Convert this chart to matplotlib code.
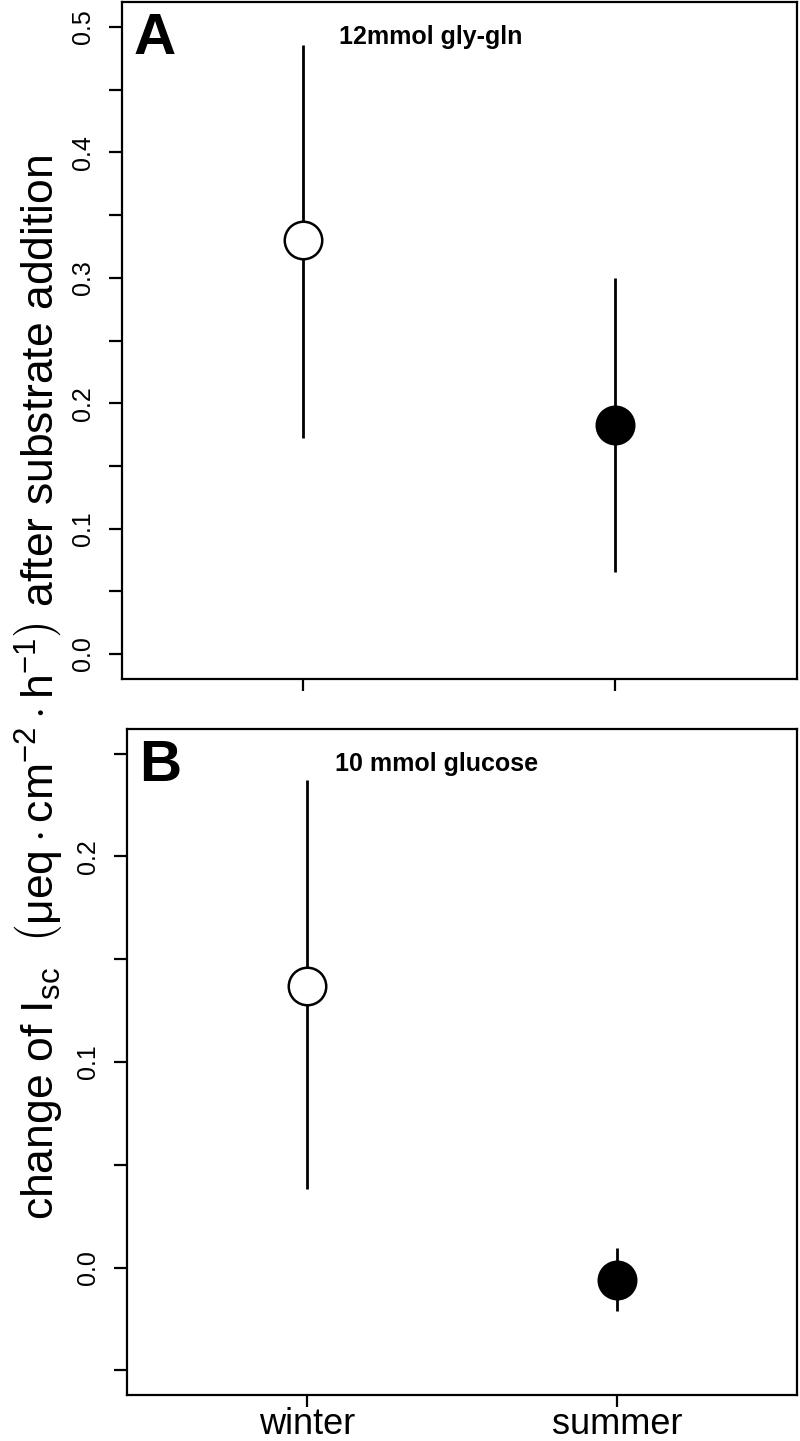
import matplotlib
matplotlib.use("Agg")
import matplotlib.pyplot as plt

plt.rcParams['font.family'] = ['Liberation Sans', 'DejaVu Sans']
plt.rcParams['mathtext.fontset'] = 'custom'
plt.rcParams['mathtext.rm'] = 'Liberation Sans'
plt.rcParams['mathtext.it'] = 'Liberation Sans:italic'
plt.rcParams['mathtext.bf'] = 'Liberation Sans:bold'

# ---- data ----
seasons = ["winter", "summer"]
x_pos = [1, 2]

a_mean = [0.330, 0.183]
a_low = [0.172, 0.065]
a_high = [0.486, 0.300]

b_mean = [0.137, -0.006]
b_low = [0.038, -0.021]
b_high = [0.237, 0.0095]

a_title = "12mmol gly-gln"
b_title = "10 mmol glucose"
a_major = [0.0, 0.1, 0.2, 0.3, 0.4, 0.5]
a_minor = [0.05, 0.15, 0.25, 0.35, 0.45]
b_major = [0.0, 0.1, 0.2]
b_minor = [-0.05, 0.05, 0.15, 0.25]

face_colors = ["white", "black"]

fig = plt.figure(figsize=(8.0, 14.41), dpi=100)
axA = fig.add_axes([0.152, 0.5288, 0.844, 0.4698])
axB = fig.add_axes([0.159, 0.0319, 0.837, 0.4622])


def draw(ax, mean, low, high, major, minor, ylim, letter, title, title_x,
         show_x):
    for i in range(len(x_pos)):
        ax.plot([x_pos[i], x_pos[i]], [low[i], high[i]], color="black",
                lw=2.0, solid_capstyle="butt", zorder=2)
        ax.plot(x_pos[i], mean[i], marker="o", ms=27, mfc=face_colors[i],
                mec="black", mew=1.8, zorder=3)
    ax.set_xlim(0.42, 2.58)
    ax.set_ylim(*ylim)
    ax.set_yticks(major)
    ax.set_yticks(minor, minor=True)
    ax.set_yticklabels([f"{v:.1f}" for v in major], rotation=90, va="center",
                       fontsize=18)
    ax.tick_params(axis="y", which="both", length=9.5, width=1.6, pad=10)
    ax.set_xticks(x_pos)
    if show_x:
        ax.set_xticklabels(seasons, fontsize=26)
    else:
        ax.set_xticklabels([])
    ax.tick_params(axis="x", length=8.5, width=1.6, pad=0)
    for s in ax.spines.values():
        s.set_linewidth(1.6)
    ax.text(0.018, 0.985, letter, transform=ax.transAxes, fontsize=42,
            fontweight="bold", va="top", ha="left")
    ax.text(title_x, 0.966, title, transform=ax.transAxes, fontsize=18,
            fontweight="bold", va="top", ha="left")


draw(axA, a_mean, a_low, a_high, a_major, a_minor, (-0.02, 0.52), "A",
     a_title, 0.322, False)
draw(axB, b_mean, b_low, b_high, b_major, b_minor, (-0.062, 0.262), "B",
     b_title, 0.31, True)

ylabel = (r"change of I$_{\mathrm{sc}}$  "
          r"$\left(\mathrm{\mu eq \cdot cm^{-2} \cdot h^{-1}}\right)$"
          r" after substrate addition")
fig.text(0.048, (1441 - 1220) / 1441, ylabel, rotation=90, fontsize=32,
         ha="center", va="bottom")

fig.savefig("out.png", dpi=100)
